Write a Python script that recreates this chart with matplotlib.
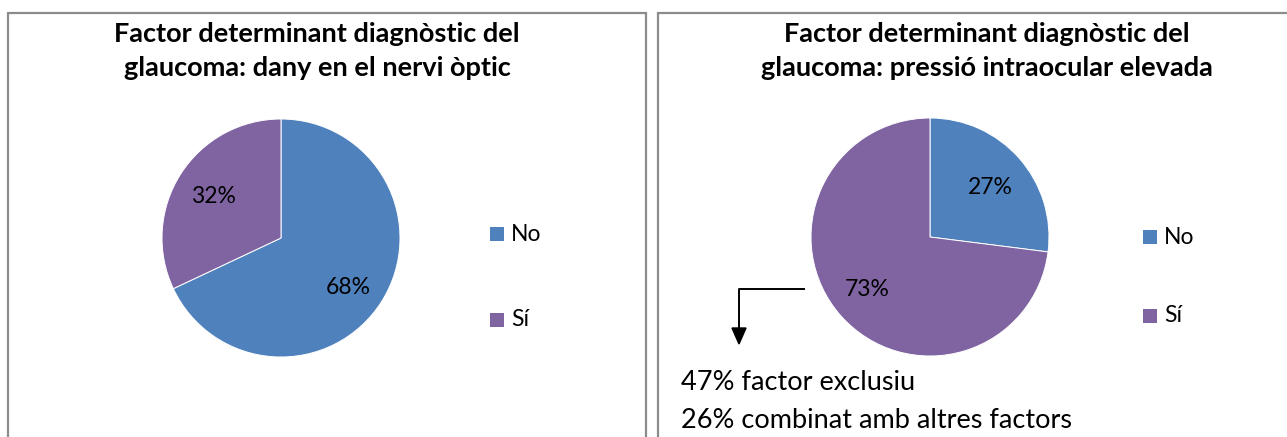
import matplotlib
matplotlib.use("Agg")
import matplotlib.pyplot as plt
from matplotlib.patches import Rectangle, Polygon
from matplotlib.lines import Line2D

plt.rcParams['font.family'] = ['Lato', 'DejaVu Sans']

categories = ["No", "Sí"]
values_left = [68, 32]
values_right = [27, 73]
title_left = "Factor determinant diagnòstic del\nglaucoma: dany en el nervi òptic"
title_right = "Factor determinant diagnòstic del\nglaucoma: pressió intraocular elevada"
note_lines = ["47% factor exclusiu", "26% combinat amb altres factors"]
colors = ["#4F81BD", "#8064A2"]

# label placement (axes data units, pie radius = 1) as in the reference
label_pos_left = [(0.563, -0.412), (-0.571, 0.345)]
label_pos_right = [(0.504, 0.420), (-0.529, -0.437)]

W, H = 1287, 437
fig = plt.figure(figsize=(W / 100, H / 100), dpi=100)
fig.patch.set_facecolor("white")

def fx(x):
    return x / W

def fy(y):
    return 1 - y / H

# panel borders
for x0, x1 in [(8, 646), (658, 1300)]:
    fig.add_artist(Rectangle((fx(x0), fy(460)), fx(x1 - x0), (460 - 13) / H,
                             transform=fig.transFigure, fill=False,
                             edgecolor="#8c8c8c", linewidth=1.6, clip_on=False))

def draw_pie(cx, cy, r, vals, title, title_cx, leg_x, leg_ys, label_pos):
    ax = fig.add_axes([fx(cx - r), fy(cy + r), fx(2 * r), 2 * r / H])
    wedges, texts, autotexts = ax.pie(
        vals, colors=colors, startangle=90, counterclock=False,
        autopct=lambda p: f"{p:.0f}%", pctdistance=0.68,
        textprops=dict(fontsize=16.5, color="black"),
        wedgeprops=dict(linewidth=0.7, edgecolor="white"))
    for t, pos in zip(autotexts, label_pos):
        t.set_position(pos)
    ax.set_xlim(-1, 1)
    ax.set_ylim(-1, 1)
    ax.set_aspect("auto")
    ax.axis("off")
    fig.text(fx(title_cx), fy(51), title, ha="center", va="center",
             fontsize=19.5, fontweight="bold", linespacing=1.5)
    for cat, col, ly in zip(categories, colors, leg_ys):
        fig.add_artist(Rectangle((fx(leg_x), fy(ly + 7)), fx(14), 14 / H,
                                 transform=fig.transFigure, facecolor=col,
                                 edgecolor="none"))
        fig.text(fx(leg_x + 21), fy(ly), cat, ha="left", va="center",
                 fontsize=16.5)
    return ax

draw_pie(281, 238, 119, values_left, title_left, 317, 490, [234, 320], label_pos_left)
draw_pie(930, 237, 119, values_right, title_right, 987, 1143, [237, 316], label_pos_right)

# annotation arrow
fig.add_artist(Line2D([fx(804), fx(739), fx(739)], [fy(289), fy(289), fy(330)],
                      transform=fig.transFigure, color="black", linewidth=1.4))
fig.add_artist(Polygon([[fx(732), fy(328)], [fx(746), fy(328)], [fx(739), fy(344)]],
                       closed=True, transform=fig.transFigure,
                       facecolor="black", edgecolor="black"))

for i, line in enumerate(note_lines):
    fig.text(fx(681), fy(382 + 39 * i), line, ha="left", va="center",
             fontsize=19.5)

fig.savefig("out.png", dpi=100, facecolor="white")
